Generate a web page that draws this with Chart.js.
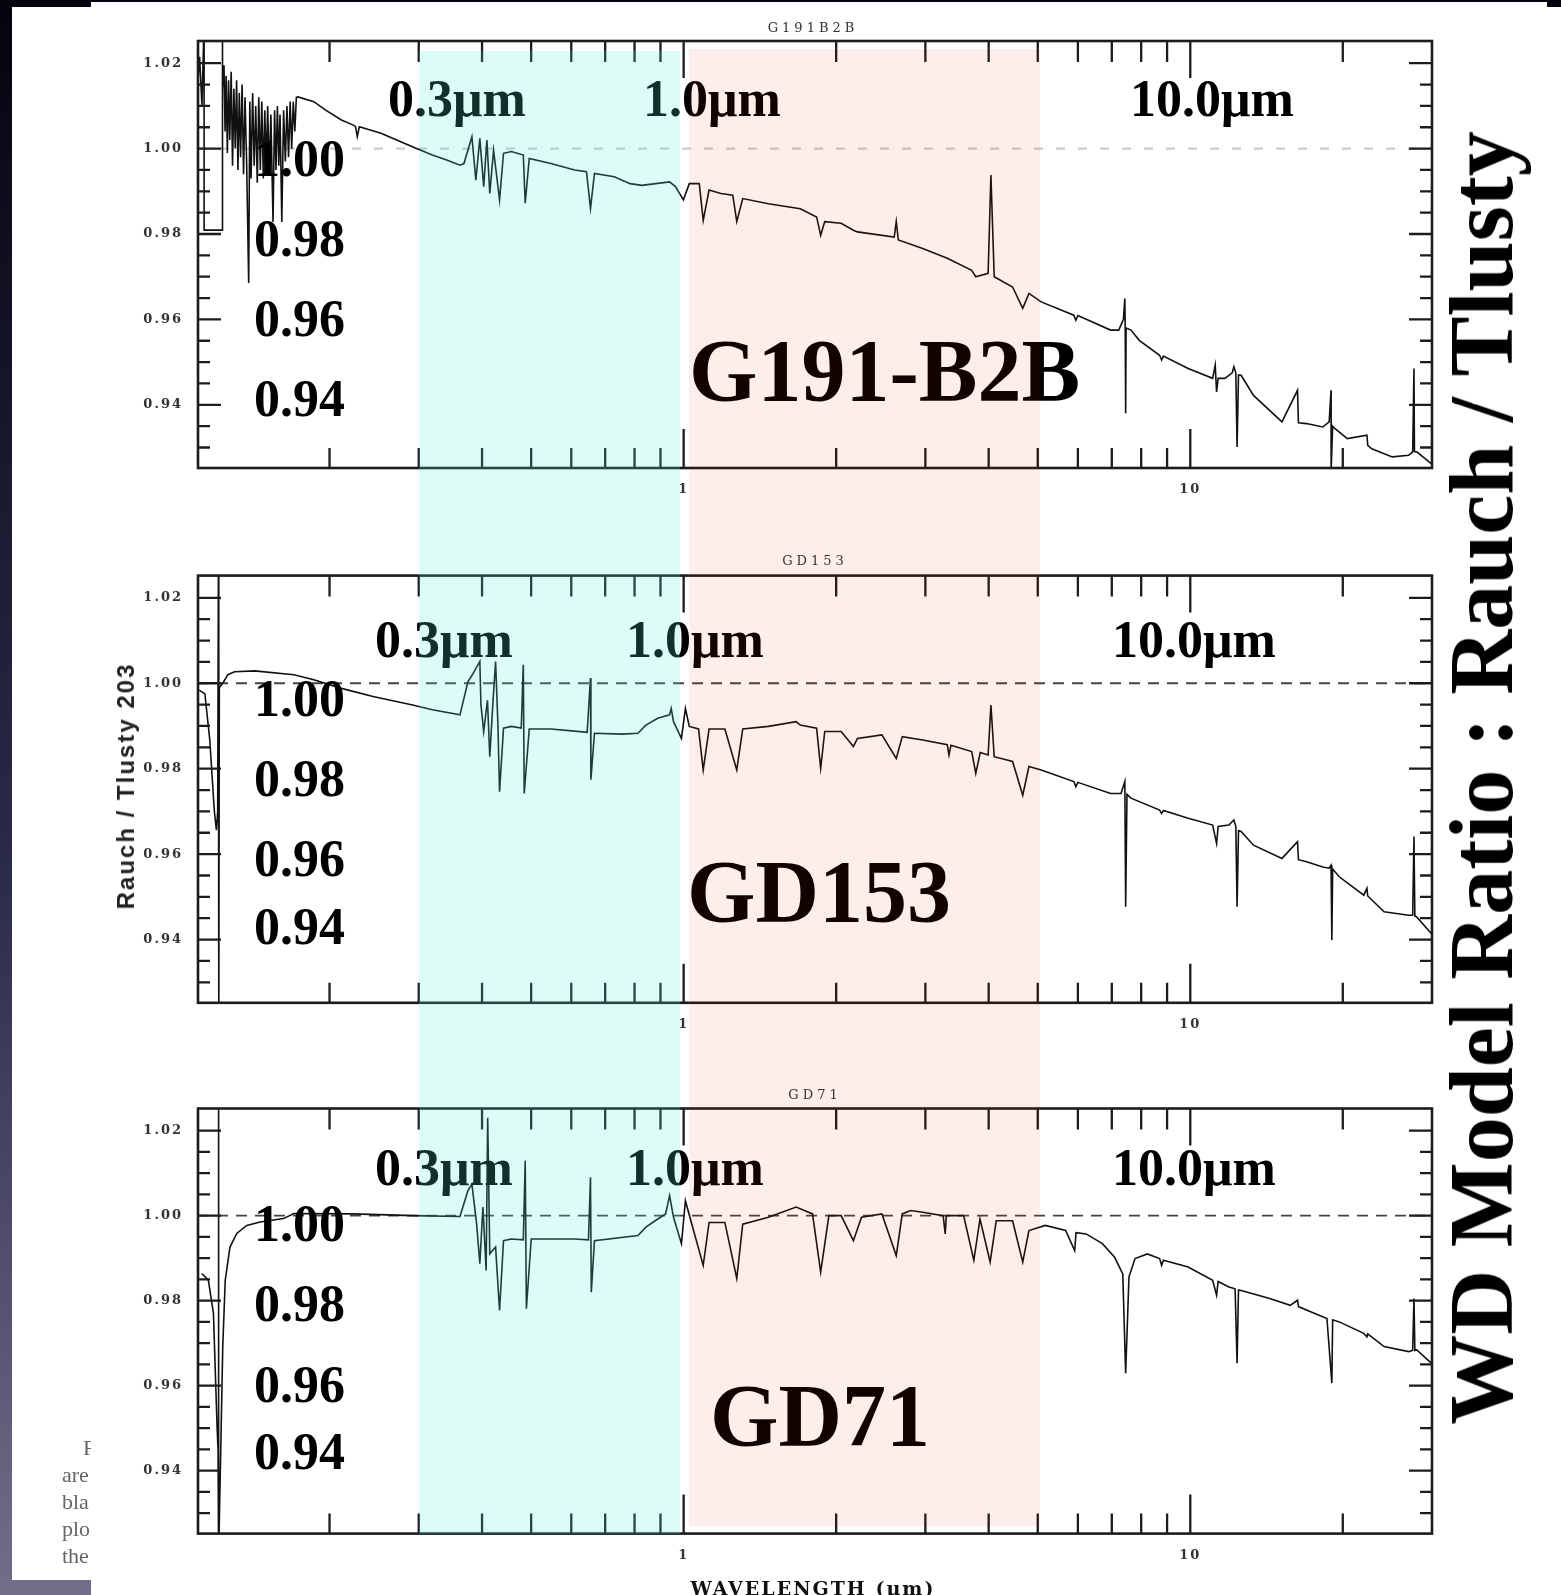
<!DOCTYPE html>
<html>
<head>
<meta charset="utf-8">
<script src="https://cdn.jsdelivr.net/npm/chart.js@4.4.0/dist/chart.umd.min.js"></script>
<style>
html, body { margin: 0; padding: 0; }
body {
  width: 1561px; height: 1595px; position: relative; overflow: hidden;
  background: linear-gradient(to bottom, #04040f 0%, #2b2b4a 55%, #726e8a 100%);
}
.sheet { position: absolute; background: #fff; }
canvas { position: absolute; left: 0; z-index: 1; }
.lbl { position: absolute; z-index: 2; font-family: 'Liberation Serif', serif; font-weight: bold; line-height: 1; white-space: nowrap; color: #000; }
.small { position: absolute; z-index: 2; font-family: 'DejaVu Serif', serif; font-size: 13px; letter-spacing: 4px; line-height: 1; color: #333; transform: translateX(-50%); white-space: nowrap; }
.band { position: absolute; z-index: 3; pointer-events: none; }
.doc { position: absolute; z-index: 2; left: 62px; top: 1434px; width: 29px; overflow: hidden; font-family: 'Liberation Serif', serif; font-size: 22px; line-height: 27px; color: #666; white-space: nowrap; }
</style>
</head>
<body>
<div class="sheet" style="left:12px; top:7px; width:79px; height:1573px;"></div>
<div class="sheet" style="left:91px; top:2px; width:1456px; height:1593px;"></div>
<div class="sheet" style="left:1547px; top:7px; width:14px; height:1588px;"></div>

<div class="doc"><div style="padding-left:21px">F</div><div>are</div><div>bla</div><div>plo</div><div>the</div></div>

<div class="small" style="left:813px; top:21px;">G191B2B</div>
<div class="small" style="left:815px; top:554px;">GD153</div>
<div class="small" style="left:815px; top:1088px;">GD71</div>

<div class="lbl" style="left:126px; top:786px; font-family:'Liberation Sans', sans-serif; font-size:24px; letter-spacing:2px; color:#222; transform:translate(-50%,-50%) rotate(-90deg);">Rauch / Tlusty 203</div>
<div class="lbl" style="left:813px; top:1579px; font-family:'DejaVu Serif', serif; font-size:19px; letter-spacing:2px; color:#111; transform:translateX(-50%);">WAVELENGTH (μm)</div>
<div class="lbl" style="left:1482px; top:778px; font-size:90px; transform:translate(-50%,-50%) rotate(-90deg);">WD Model Ratio : Rauch / Tlusty</div>

<div id="labels"></div>
<div class="band" id="bandUV"></div>
<div class="band" id="bandIR"></div>

<canvas id="c1" width="1561" height="520" style="top:0px"></canvas>
<canvas id="c2" width="1561" height="530" style="top:520px"></canvas>
<canvas id="c3" width="1561" height="545" style="top:1050px"></canvas>

<script>
// wavelength in micron, ratio Rauch / Tlusty
const starNames = ['G191-B2B', 'GD153', 'GD71'];
const bandText = ['0.3μm', '1.0μm', '10.0μm'];
const ratioText = ['1.00', '0.98', '0.96', '0.94'];

const xMajor = [1, 10];
const xMinor = [0.2, 0.3, 0.4, 0.5, 0.6, 0.7, 0.8, 0.9, 2, 3, 4, 5, 6, 7, 8, 9, 20];
const yMajor = [0.94, 0.96, 0.98, 1.00, 1.02];
const yMinor = [0.93, 0.935, 0.945, 0.95, 0.955, 0.965, 0.97, 0.975, 0.985, 0.99, 0.995, 1.005, 1.01, 1.015];

const bandUV = [0.3, 0.985];
const bandIR = [1.025, 5.05];

const g191b2b = [
  [0.1100,1.0160],[0.1108,1.0215],[0.1120,1.0100],[0.1131,1.0300],[0.1131,0.9809],[0.1227,0.9809],[0.1227,1.0300],
  [0.1232,1.0140],[0.1238,1.0195],[0.1244,1.0040],[0.1250,1.0170],[0.1257,0.9990],[0.1264,1.0160],[0.1271,1.0020],
  [0.1279,1.0180],[0.1287,0.9960],[0.1295,1.0140],[0.1303,1.0000],[0.1311,1.0160],[0.1319,0.9950],[0.1327,1.0130],
  [0.1335,0.9980],[0.1344,1.0150],[0.1353,0.9940],[0.1362,1.0120],[0.1372,0.9970],[0.1385,0.9685],[0.1392,1.0110],
  [0.1400,0.9930],[0.1410,1.0130],[0.1420,0.9960],[0.1430,1.0100],[0.1440,0.9920],[0.1450,1.0120],[0.1460,0.9950],
  [0.1470,1.0110],[0.1480,0.9930],[0.1490,1.0090],[0.1500,0.9960],[0.1510,1.0100],[0.1520,0.9940],[0.1532,1.0080],
  [0.1547,0.9828],[0.1558,1.0090],[0.1568,0.9950],[0.1578,1.0100],[0.1588,0.9960],[0.1597,1.0080],[0.1610,0.9828],
  [0.1623,1.0090],[0.1636,0.9970],[0.1648,1.0100],[0.1660,0.9980],[0.1672,1.0110],[0.1684,1.0000],[0.1696,1.0110],
  [0.1708,1.0040],[0.1720,1.0120],[0.1733,1.0121],[0.1862,1.0110],[0.1965,1.0090],[0.2111,1.0067],[0.2228,1.0055],
  [0.2250,1.0052],[0.2269,1.0028],[0.2290,1.0051],[0.2527,1.0036],[0.2764,1.0016],[0.2970,1.0000],[0.3191,0.9985],
  [0.3428,0.9972],[0.3618,0.9961],[0.3684,0.9965],[0.3820,1.0028],[0.3889,0.9926],[0.3960,1.0024],[0.4030,0.9911],
  [0.4089,1.0020],[0.4143,0.9895],[0.4215,0.9996],[0.4331,0.9880],[0.4410,0.9989],[0.4570,0.9993],[0.4825,0.9985],
  [0.4867,0.9872],[0.4957,0.9977],[0.5470,0.9965],[0.6090,0.9950],[0.6430,0.9946],[0.6548,0.9860],[0.6667,0.9942],
  [0.7295,0.9934],[0.7838,0.9918],[0.8270,0.9914],[0.9380,0.9922],[0.9636,0.9911],[0.9988,0.9880],[1.0260,0.9918],
  [1.0735,0.9918],[1.0930,0.9832],[1.1225,0.9903],[1.1850,0.9895],[1.2500,0.9891],[1.2730,0.9829],[1.3080,0.9883],
  [1.4700,0.9871],[1.6990,0.9859],[1.8300,0.9840],[1.8640,0.9797],[1.8990,0.9829],[2.0460,0.9825],[2.1630,0.9809],
  [2.2030,0.9805],[2.6040,0.9793],[2.6280,0.9829],[2.6530,0.9786],[2.9640,0.9766],[3.3140,0.9743],[3.7030,0.9715],
  [3.7720,0.9700],[3.9900,0.9708],[4.0410,0.9938],[4.1020,0.9700],[4.4590,0.9676],[4.6700,0.9626],[4.8030,0.9661],
  [5.0780,0.9641],[5.8900,0.9610],[5.9440,0.9598],[6.0000,0.9609],[6.9610,0.9575],[7.2240,0.9575],[7.3800,0.9600],
  [7.4270,0.9649],[7.4400,0.9580],[7.4550,0.9380],[7.4700,0.9580],[7.6380,0.9575],[7.9290,0.9551],[8.6990,0.9516],
  [8.7790,0.9505],[8.8500,0.9514],[9.9040,0.9485],[11.070,0.9462],[11.200,0.9493],[11.270,0.9430],[11.350,0.9462],
  [11.700,0.9462],[12.100,0.9475],[12.190,0.9489],[12.300,0.9475],[12.370,0.9301],[12.450,0.9470],[12.600,0.9469],
  [13.330,0.9422],[15.170,0.9360],[16.280,0.9434],[16.350,0.9358],[16.960,0.9356],[18.260,0.9348],[18.800,0.9360],
  [18.960,0.9434],[18.970,0.9247],[19.100,0.9350],[19.310,0.9344],[20.420,0.9321],[22.320,0.9329],[22.400,0.9305],
  [22.820,0.9297],[25.040,0.9278],[26.980,0.9282],[27.480,0.9290],[27.640,0.9485],[27.700,0.9290],[27.990,0.9290],
  [29.900,0.9262]
];

const gd153 = [
  [0.1106,0.9984],[0.1135,0.9975],[0.1160,0.9870],[0.1185,0.9700],[0.1196,0.9656],[0.1203,0.9700],[0.1207,1.0300],
  [0.1209,0.9200],[0.1212,0.9990],[0.1231,1.0000],[0.1260,1.0020],[0.1299,1.0027],[0.1422,1.0029],[0.1701,1.0020],
  [0.1862,1.0008],[0.2111,0.9988],[0.2437,0.9969],[0.2917,0.9949],[0.3191,0.9938],[0.3618,0.9926],[0.3752,1.0004],
  [0.3820,1.0018],[0.3960,1.0051],[0.3980,0.9950],[0.4030,0.9887],[0.4100,0.9960],[0.4143,0.9828],[0.4200,0.9950],
  [0.4254,1.0051],[0.4300,0.9900],[0.4331,0.9746],[0.4410,0.9895],[0.4570,0.9899],[0.4780,0.9895],[0.4825,1.0043],
  [0.4845,0.9742],[0.4957,0.9893],[0.5470,0.9893],[0.6090,0.9888],[0.6450,0.9885],[0.6548,1.0012],[0.6560,0.9774],
  [0.6667,0.9883],[0.7561,0.9881],[0.8124,0.9883],[0.8423,0.9902],[0.8889,0.9918],[0.9380,0.9926],[0.9450,0.9941],
  [0.9550,0.9910],[0.9900,0.9871],[1.0080,0.9941],[1.0260,0.9899],[1.0700,0.9893],[1.0930,0.9797],[1.1225,0.9893],
  [1.2060,0.9893],[1.2730,0.9797],[1.3080,0.9893],[1.4700,0.9899],[1.6670,0.9910],[1.6990,0.9902],[1.8300,0.9895],
  [1.8640,0.9801],[1.8990,0.9887],[2.0460,0.9887],[2.1630,0.9852],[2.2030,0.9871],[2.4620,0.9879],[2.6280,0.9824],
  [2.7010,0.9875],[2.9640,0.9867],[3.3140,0.9856],[3.3400,0.9832],[3.3700,0.9855],[3.7030,0.9840],[3.7720,0.9789],
  [3.8500,0.9838],[3.9900,0.9832],[4.0410,0.9949],[4.1020,0.9828],[4.4590,0.9817],[4.6700,0.9738],[4.8030,0.9805],
  [5.0780,0.9797],[5.8900,0.9770],[5.9440,0.9758],[6.0000,0.9768],[6.9610,0.9742],[7.3000,0.9742],[7.4270,0.9770],
  [7.4550,0.9477],[7.5000,0.9740],[7.6380,0.9731],[8.6990,0.9703],[8.7790,0.9695],[8.8500,0.9702],[9.9040,0.9684],
  [11.070,0.9668],[11.270,0.9625],[11.350,0.9665],[11.920,0.9668],[12.190,0.9680],[12.300,0.9665],[12.370,0.9477],
  [12.450,0.9655],[12.600,0.9653],[13.330,0.9621],[15.170,0.9590],[16.280,0.9629],[16.350,0.9587],[16.960,0.9582],
  [18.260,0.9570],[18.790,0.9567],[18.960,0.9574],[19.030,0.9399],[19.100,0.9565],[19.680,0.9547],[22.000,0.9504],
  [22.320,0.9520],[22.400,0.9502],[24.130,0.9465],[26.980,0.9457],[27.480,0.9457],[27.640,0.9641],[27.750,0.9455],
  [27.990,0.9453],[29.900,0.9414]
];

const gd71 = [
  [0.1119,0.9864],[0.1153,0.9848],[0.1180,0.9770],[0.1200,0.9500],[0.1205,0.9450],[0.1207,1.0300],[0.1209,0.9200],
  [0.1220,0.9453],[0.1231,0.9692],[0.1245,0.9848],[0.1272,0.9926],[0.1312,0.9958],[0.1373,0.9977],[0.1459,0.9985],
  [0.1622,0.9993],[0.1701,1.0005],[0.2228,1.0004],[0.2917,1.0000],[0.3618,0.9998],[0.3752,1.0059],[0.3820,1.0074],
  [0.3903,0.9980],[0.3960,0.9887],[0.4016,1.0020],[0.4075,0.9871],[0.4104,1.0230],[0.4143,0.9910],[0.4254,0.9926],
  [0.4331,0.9777],[0.4410,0.9941],[0.4570,0.9945],[0.4825,0.9943],[0.4867,1.0129],[0.4893,0.9781],[0.5002,0.9945],
  [0.6090,0.9945],[0.6489,0.9943],[0.6548,1.0090],[0.6572,0.9820],[0.6667,0.9941],[0.8124,0.9953],[0.8423,0.9973],
  [0.8889,0.9992],[0.9213,1.0004],[0.9380,1.0047],[0.9550,0.9996],[0.9900,0.9934],[1.0080,1.0035],[1.0356,0.9984],
  [1.0930,0.9883],[1.1225,0.9984],[1.2060,0.9984],[1.2730,0.9852],[1.3080,0.9980],[1.4700,0.9996],[1.6670,1.0020],
  [1.7960,1.0004],[1.8640,0.9867],[1.9350,1.0000],[2.0460,1.0000],[2.1630,0.9941],[2.2440,0.9996],[2.4620,1.0004],
  [2.6280,0.9906],[2.7010,1.0004],[2.8040,1.0012],[2.9640,1.0008],[3.2530,1.0000],[3.2830,0.9957],[3.3000,1.0000],
  [3.5690,1.0000],[3.7390,0.9895],[3.8450,0.9992],[4.0270,0.9891],[4.1400,0.9988],[4.4590,0.9988],[4.6700,0.9891],
  [4.8030,0.9965],[5.1730,0.9977],[5.6750,0.9965],[5.9130,0.9918],[5.9500,0.9960],[6.2290,0.9957],[6.7070,0.9934],
  [7.0900,0.9902],[7.3580,0.9863],[7.4550,0.9629],[7.5680,0.9856],[7.7800,0.9899],[8.2260,0.9910],[8.6990,0.9899],
  [8.7790,0.9883],[8.8500,0.9895],[9.9040,0.9879],[11.070,0.9848],[11.270,0.9813],[11.350,0.9845],[11.920,0.9832],
  [12.260,0.9828],[12.370,0.9653],[12.450,0.9825],[12.600,0.9824],[14.350,0.9805],[15.750,0.9789],[16.280,0.9801],
  [16.350,0.9786],[17.280,0.9774],[18.610,0.9758],[19.030,0.9606],[19.100,0.9755],[19.680,0.9750],[22.000,0.9723],
  [22.320,0.9715],[22.400,0.9722],[24.130,0.9692],[26.980,0.9680],[27.480,0.9683],[27.640,0.9805],[27.750,0.9683],
  [27.990,0.9684],[29.900,0.9653]
];

const spectra = [g191b2b, gd153, gd71];

// page layout of the three panels
const panels = [
  { canvas: 'c1', padTop: 41,   padBottom: 12,   refColor: '#cccccc', refDash: [9, 13], refWidth: 2.2 },
  { canvas: 'c2', padTop: 55.6, padBottom: 7.2,  refColor: '#444444', refDash: [11, 8], refWidth: 1.8 },
  { canvas: 'c3', padTop: 58.5, padBottom: 21.4, refColor: '#444444', refDash: [11, 8], refWidth: 1.8 }
];

// big overlay labels: band label baseline and x's, ratio label baselines, star name position
const labelPos = [
  { bandY: 117, bandX: [388, 643, 1130], ratioY: [176.7, 256.7, 336.7, 416.7], nameX: 689, nameY: 401 },
  { bandY: 658, bandX: [375, 626, 1112], ratioY: [716.7, 796.7, 876.7, 945],  nameX: 687, nameY: 922 },
  { bandY: 1186, bandX: [375, 626, 1112], ratioY: [1241.3, 1321.3, 1403, 1469.7], nameX: 710, nameY: 1446 }
];

function addLabel(text, x, baseline, size) {
  const d = document.createElement('div');
  d.className = 'lbl';
  d.textContent = text;
  d.style.fontSize = size + 'px';
  d.style.left = x + 'px';
  d.style.top = (baseline - 0.8375 * size) + 'px';
  document.getElementById('labels').appendChild(d);
}

labelPos.forEach((p, i) => {
  bandText.forEach((t, j) => addLabel(t, p.bandX[j], p.bandY, 52));
  ratioText.forEach((t, j) => addLabel(t, 254, p.ratioY[j], 52));
  addLabel(starNames[i], p.nameX, p.nameY, 88);
});

// inward IDL-style ticks and frame
const frame = {
  id: 'frame',
  beforeDraw(chart) { chart.ctx.letterSpacing = '2px'; },
  afterDatasetsDraw(chart) {
    const { ctx, chartArea: a, scales: { x, y } } = chart;
    ctx.save();
    ctx.strokeStyle = '#1c1c1c';
    ctx.lineWidth = 2.6;
    ctx.strokeRect(a.left, a.top, a.right - a.left, a.bottom - a.top);
    ctx.lineWidth = 2.3;
    ctx.beginPath();
    xMajor.concat(xMinor).forEach(v => {
      const px = x.getPixelForValue(v);
      const major = xMajor.includes(v);
      ctx.moveTo(px, a.bottom); ctx.lineTo(px, a.bottom - (major ? 39 : 20));
      ctx.moveTo(px, a.top); ctx.lineTo(px, a.top + (major ? 37 : 21));
    });
    yMajor.concat(yMinor).forEach(v => {
      const py = y.getPixelForValue(v);
      const len = yMajor.includes(v) ? 23 : 12;
      ctx.moveTo(a.left, py); ctx.lineTo(a.left + len, py);
      ctx.moveTo(a.right, py); ctx.lineTo(a.right - len, py);
    });
    ctx.stroke();
    ctx.restore();
  }
};

const tickFont = { family: 'DejaVu Serif', size: 13, weight: 'bold' };

const charts = panels.map((p, i) => new Chart(document.getElementById(p.canvas).getContext('2d'), {
  type: 'line',
  data: {
    datasets: [{
      data: spectra[i].map(d => ({ x: d[0], y: d[1] })),
      borderColor: '#111',
      borderWidth: 1.6,
      pointRadius: 0,
      tension: 0
    }, {
      data: [{ x: 0.11, y: 1.0 }, { x: 30, y: 1.0 }],
      borderColor: p.refColor,
      borderWidth: p.refWidth,
      borderDash: p.refDash,
      pointRadius: 0
    }]
  },
  options: {
    responsive: false,
    animation: false,
    layout: { padding: { left: 138, right: 129, top: p.padTop, bottom: p.padBottom } },
    plugins: { legend: { display: false }, tooltip: { enabled: false }, title: { display: false } },
    scales: {
      x: {
        type: 'logarithmic', min: 0.11, max: 30,
        grid: { display: false, drawTicks: false }, border: { display: false },
        afterBuildTicks: s => { s.ticks = xMajor.map(v => ({ value: v })); },
        afterFit: s => { s.height = 40; },
        ticks: { padding: 14, color: '#333', font: tickFont, callback: v => String(v), maxRotation: 0, autoSkip: false }
      },
      y: {
        min: 0.9252, max: 1.0252,
        grid: { display: false, drawTicks: false }, border: { display: false },
        afterBuildTicks: s => { s.ticks = yMajor.map(v => ({ value: v })); },
        afterFit: s => { s.width = 60; },
        ticks: { padding: 15, color: '#333', font: tickFont, callback: v => Number(v).toFixed(2) }
      }
    }
  },
  plugins: [frame]
}));

// translucent wavelength bands laid over the whole figure
const xs = charts[0].scales.x;
function placeBand(id, band, top, bottom, color) {
  const el = document.getElementById(id);
  const l = xs.getPixelForValue(band[0]);
  const r = xs.getPixelForValue(band[1]);
  el.style.left = l + 'px';
  el.style.width = (r - l) + 'px';
  el.style.top = top + 'px';
  el.style.height = (bottom - top) + 'px';
  el.style.background = color;
}
placeBand('bandUV', bandUV, 51, 1534, 'rgba(76,240,214,0.2)');
placeBand('bandIR', bandIR, 49, 1526, 'rgba(230,43,18,0.08)');
</script>
</body>
</html>
